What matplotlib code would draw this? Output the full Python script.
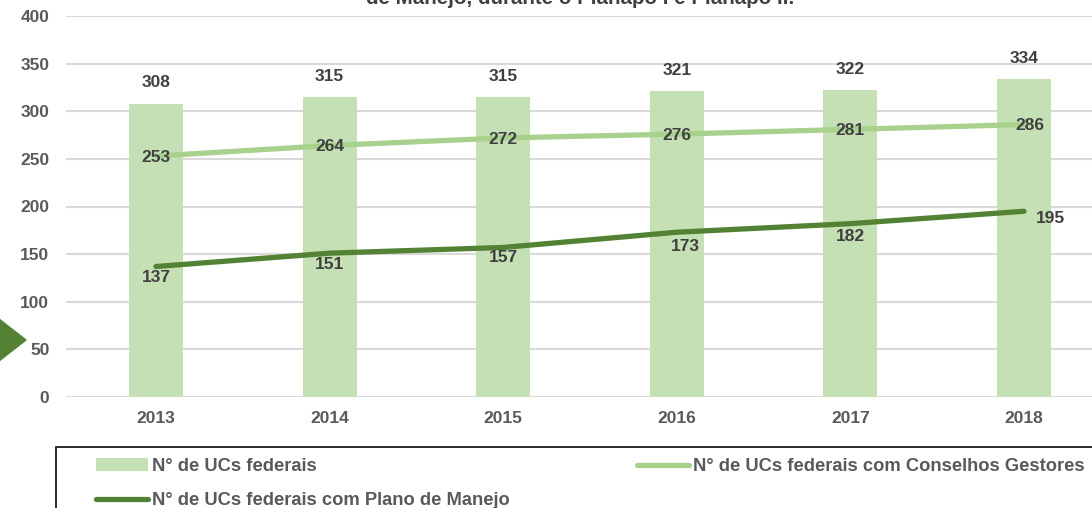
import matplotlib
matplotlib.use('Agg')
import matplotlib.pyplot as plt
from matplotlib.patches import Rectangle, Polygon
import numpy as np

plt.rcParams['font.family'] = ['Liberation Sans', 'DejaVu Sans']
plt.rcParams['font.weight'] = 'bold'

# data
years = ['2013', '2014', '2015', '2016', '2017', '2018']
ucs_federais = [308, 315, 315, 321, 322, 334]
ucs_conselhos = [253, 264, 272, 276, 281, 286]
ucs_plano = [137, 151, 157, 173, 182, 195]

label_ucs = 'N° de UCs federais'
label_conselhos = 'N° de UCs federais com Conselhos Gestores'
label_plano = 'N° de UCs federais com Plano de Manejo'
title_tail = 'de Manejo, durante o Planapo I e Planapo II.'

bar_color = '#C5E0B4'
light_green = '#A9D18E'
dark_green = '#548235'
label_color = '#404040'
tick_color = '#595959'

W, H = 1092, 508
fig = plt.figure(figsize=(W / 100, H / 100), dpi=100)

# plot area: value 0 at y=397px, 400 at y=16px, left edge at x=66px
ax = fig.add_axes([66 / W, 1 - 397 / H, 1 - 66 / W, (397 - 16) / H])
x = np.arange(len(years))

bars = ax.bar(x, ucs_federais, width=0.31, color=bar_color, label=label_ucs, zorder=2)
line_c, = ax.plot(x, ucs_conselhos, color=light_green, lw=3.8, solid_capstyle='round',
                  label=label_conselhos, zorder=3)
line_p, = ax.plot(x, ucs_plano, color=dark_green, lw=3.8, solid_capstyle='round',
                  label=label_plano, zorder=3)

step = 173.6
ax.set_xlim((66 - 156) / step, (W - 156) / step)
ax.set_ylim(0, 400)
ax.set_yticks(range(0, 401, 50))
ax.set_xticks(x)
ax.set_xticklabels(years)
ax.yaxis.grid(True, color='#D9D9D9', lw=1.5, zorder=0)
ax.set_axisbelow(True)
for s in ax.spines.values():
    s.set_visible(False)
ax.tick_params(length=0, labelsize=12.5, labelcolor=tick_color)
ax.tick_params(axis='y', pad=12)
ax.tick_params(axis='x', pad=10)

# data labels
lab_kw = dict(fontsize=12.5, color=label_color, ha='center', va='center',
              textcoords='offset points', zorder=5)
for i, v in enumerate(ucs_federais):
    ax.annotate(str(v), (i, v), xytext=(0, 15), **lab_kw)
for i, v in enumerate(ucs_conselhos):
    dx = 4 if i == len(years) - 1 else 0
    ax.annotate(str(v), (i, v), xytext=(dx, -1), **lab_kw)
plano_offsets = [(0, -8), (0, -8.5), (0, -7.5), (6, -10.5), (0, -9.5), (19, -5)]
for i, v in enumerate(ucs_plano):
    ax.annotate(str(v), (i, v), xytext=plano_offsets[i], **lab_kw)

# cut-off title at the top
fig.text(580 / W, 1 - 4 / H, title_tail, ha='center', va='baseline',
         fontsize=14.8, color=label_color)

# dark green arrow shape on the left
fig.patches.append(Polygon([(-10 / W, 1 - 312 / H), (26 / W, 1 - 340 / H),
                            (-10 / W, 1 - 368 / H)], closed=True,
                           transform=fig.transFigure, color=dark_green))

# legend box
fig.patches.append(Rectangle((56 / W, -0.1), 1.0, 1 - 447 / H + 0.1,
                             transform=fig.transFigure, fill=False,
                             edgecolor='#1A1A1A', lw=1.3))
fig.legend([bars, line_p, line_c], [label_ucs, label_plano, label_conselhos], ncol=2,
           loc='upper left', bbox_to_anchor=(96 / W, 1 - 458 / H),
           frameon=False, fontsize=13.2, labelcolor=tick_color,
           handlelength=2.85, handletextpad=0.22, columnspacing=6.9,
           labelspacing=0.95, borderaxespad=0, borderpad=0)

plt.savefig('out.png', dpi=100)
plt.close()
